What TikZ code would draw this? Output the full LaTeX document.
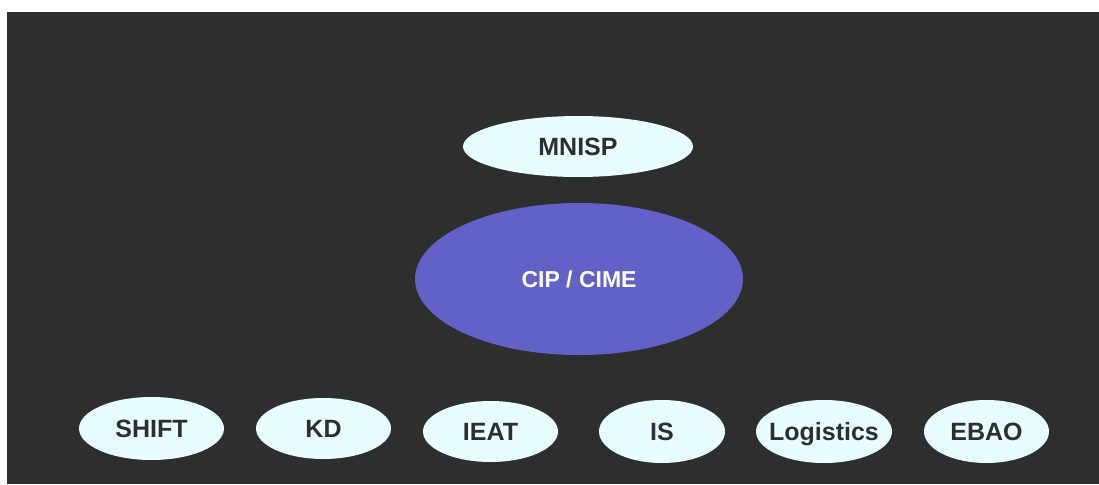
\documentclass[tikz,border=0pt]{standalone}
\usepackage{fontspec}
\setmainfont{Liberation Sans}
\usetikzlibrary{shapes.geometric}
\definecolor{bgdark}{HTML}{2E2E2E}
\definecolor{palecyan}{HTML}{E9FFFF}
\definecolor{coreblue}{HTML}{6161C7}
\tikzset{
  unit/.style={ellipse, fill=palecyan, text=bgdark, inner sep=0pt,
    text height=18pt, text depth=0pt,
    font=\fontsize{25}{30}\selectfont\bfseries},
  core/.style={ellipse, fill=coreblue, text=white, inner sep=0pt,
    text height=17pt, text depth=0pt,
    font=\fontsize{23}{28}\selectfont\bfseries}
}
\begin{document}
\begin{tikzpicture}[x=1pt,y=-1pt]
      \useasboundingbox (0,0) rectangle (1099,484);
      \fill [bgdark] (7,12) rectangle (1099,484);
      \node [unit, minimum width=230pt, minimum height=61pt] (mnisp) at (578,146.5) {MNISP};
      \node [core, minimum width=328pt, minimum height=152pt] (cip) at (579,279) {CIP / CIME};
      \node [unit, minimum width=145pt, minimum height=63pt] (shift) at (151.5,428.5) {SHIFT};
      \node [unit, minimum width=135pt, minimum height=61pt] (kd) at (323.5,428.5) {KD};
      \node [unit, minimum width=135pt, minimum height=61pt] (ieat) at (490.5,431.5) {IEAT};
      \node [unit, minimum width=126pt, minimum height=63pt] (is) at (662,431.5) {IS};
      \node [unit, minimum width=136pt, minimum height=63pt, inner xsep=-16pt] (logistics) at (824,431.5) {Logistics};
      \node [unit, minimum width=125pt, minimum height=63pt] (ebao) at (986.5,431.5) {EBAO};
    \end{tikzpicture}
\end{document}
